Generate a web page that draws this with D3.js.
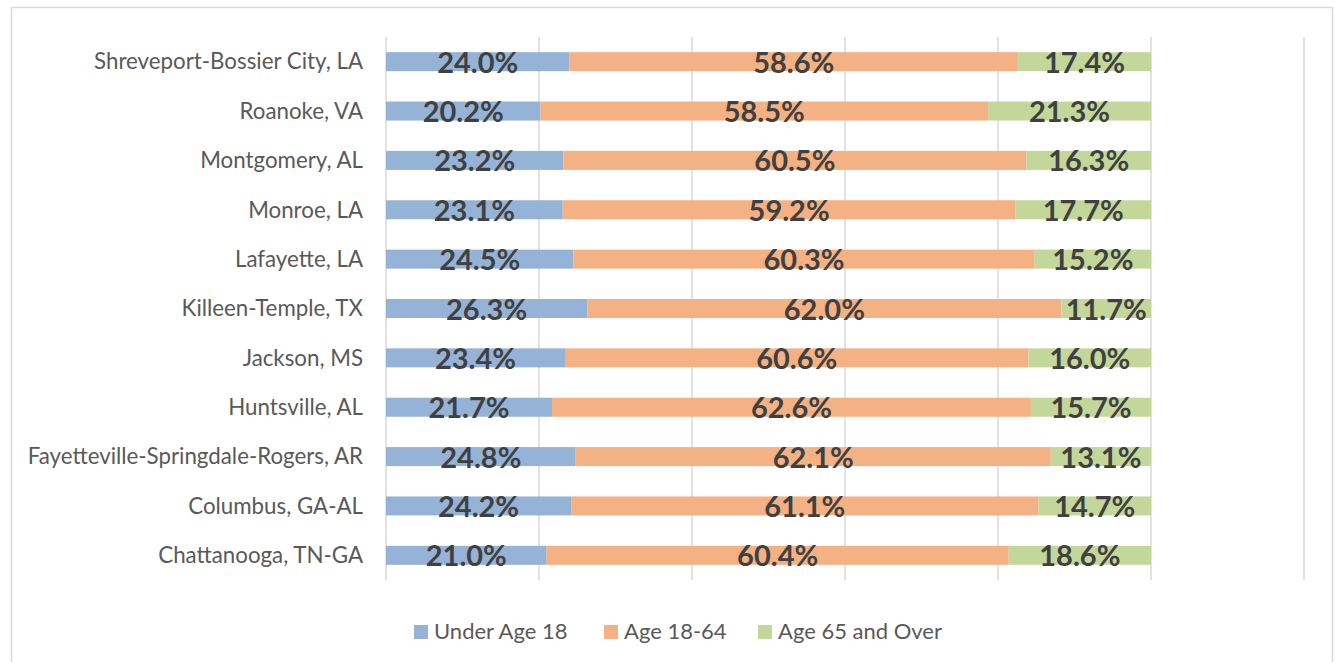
<!DOCTYPE html>
<html><head><meta charset="utf-8">
<script src="https://cdn.jsdelivr.net/npm/d3@7"></script>
<style>
html,body{margin:0;padding:0;background:#fff;}
svg{display:block;}
</style></head>
<body>
<svg id="chart" width="1337" height="662"></svg>
<script>
const categories = ["Shreveport-Bossier City, LA","Roanoke, VA","Montgomery, AL","Monroe, LA","Lafayette, LA","Killeen-Temple, TX","Jackson, MS","Huntsville, AL","Fayetteville-Springdale-Rogers, AR","Columbus, GA-AL","Chattanooga, TN-GA"];
const under18 = [24.0,20.2,23.2,23.1,24.5,26.3,23.4,21.7,24.8,24.2,21.0];
const age18to64 = [58.6,58.5,60.5,59.2,60.3,62.0,60.6,62.6,62.1,61.1,60.4];
const age65plus = [17.4,21.3,16.3,17.7,15.2,11.7,16.0,15.7,13.1,14.7,18.6];
const seriesNames = ["Under Age 18","Age 18-64","Age 65 and Over"];
const seriesColors = ["#95B3D7","#F4B183","#C4D79B"];
const gridTicks = [0,0.2,0.4,0.6,0.8,1.0,1.2];

const svg = d3.select("#chart");
const FONT = "Lato, 'Open Sans', sans-serif";

// chart border
svg.append("rect").attr("x",11.5).attr("y",7.5).attr("width",1321).attr("height",700)
  .attr("fill","none").attr("stroke","#D9D9D9").attr("stroke-width",1.5);

const x = d3.scaleLinear().domain([0,1.2]).range([386,1304]);
const y = d3.scaleBand().domain(categories).range([37,580]).paddingInner(0.615).paddingOuter(0.3075);

// gridlines
svg.append("g").selectAll("line").data(gridTicks).join("line")
  .attr("x1",d=>x(d)).attr("x2",d=>x(d)).attr("y1",37).attr("y2",580)
  .attr("stroke","#D9D9D9").attr("stroke-width",1.5);

// stacked data
const rows = categories.map((c,i)=>({cat:c, s0:under18[i]/100, s1:age18to64[i]/100, s2:age65plus[i]/100}));
const stack = d3.stack().keys(["s0","s1","s2"]);
const layers = stack(rows);

const g = svg.append("g");
layers.forEach((layer,li)=>{
  g.append("g").selectAll("rect").data(layer).join("rect")
    .attr("x",d=>x(d[0])).attr("width",d=>x(d[1])-x(d[0]))
    .attr("y",d=>y(d.data.cat)).attr("height",y.bandwidth())
    .attr("fill",seriesColors[li]);
});
layers.forEach((layer,li)=>{
  g.append("g").selectAll("text").data(layer).join("text")
    .attr("x",d=>(x(d[0])+x(d[1]))/2)
    .attr("y",d=>y(d.data.cat)+y.bandwidth()/2+11)
    .attr("text-anchor","middle").attr("font-family",FONT).attr("font-weight","bold")
    .attr("font-size",29).attr("fill","#404040")
    .text(d=>(d[1]-d[0]).toLocaleString("en-US",{style:"percent",minimumFractionDigits:1,maximumFractionDigits:1}));
});

// y axis labels
const yAxis = d3.axisLeft(y).tickSize(0).tickPadding(23);
const ya = svg.append("g").attr("transform","translate(386,0)").call(yAxis);
ya.select(".domain").remove();
ya.selectAll("text").attr("font-family",FONT).attr("font-size",22.3).attr("fill","#595959").attr("dy","0.35em");

// legend
const legendX = [414,604,758];
const lg = svg.append("g");
seriesNames.forEach((n,i)=>{
  lg.append("rect").attr("x",legendX[i]).attr("y",625).attr("width",14).attr("height",14).attr("fill",seriesColors[i]);
  lg.append("text").attr("x",legendX[i]+20).attr("y",639).attr("font-family",FONT).attr("font-size",22)
    .attr("fill","#595959").text(n);
});
</script>
</body></html>
